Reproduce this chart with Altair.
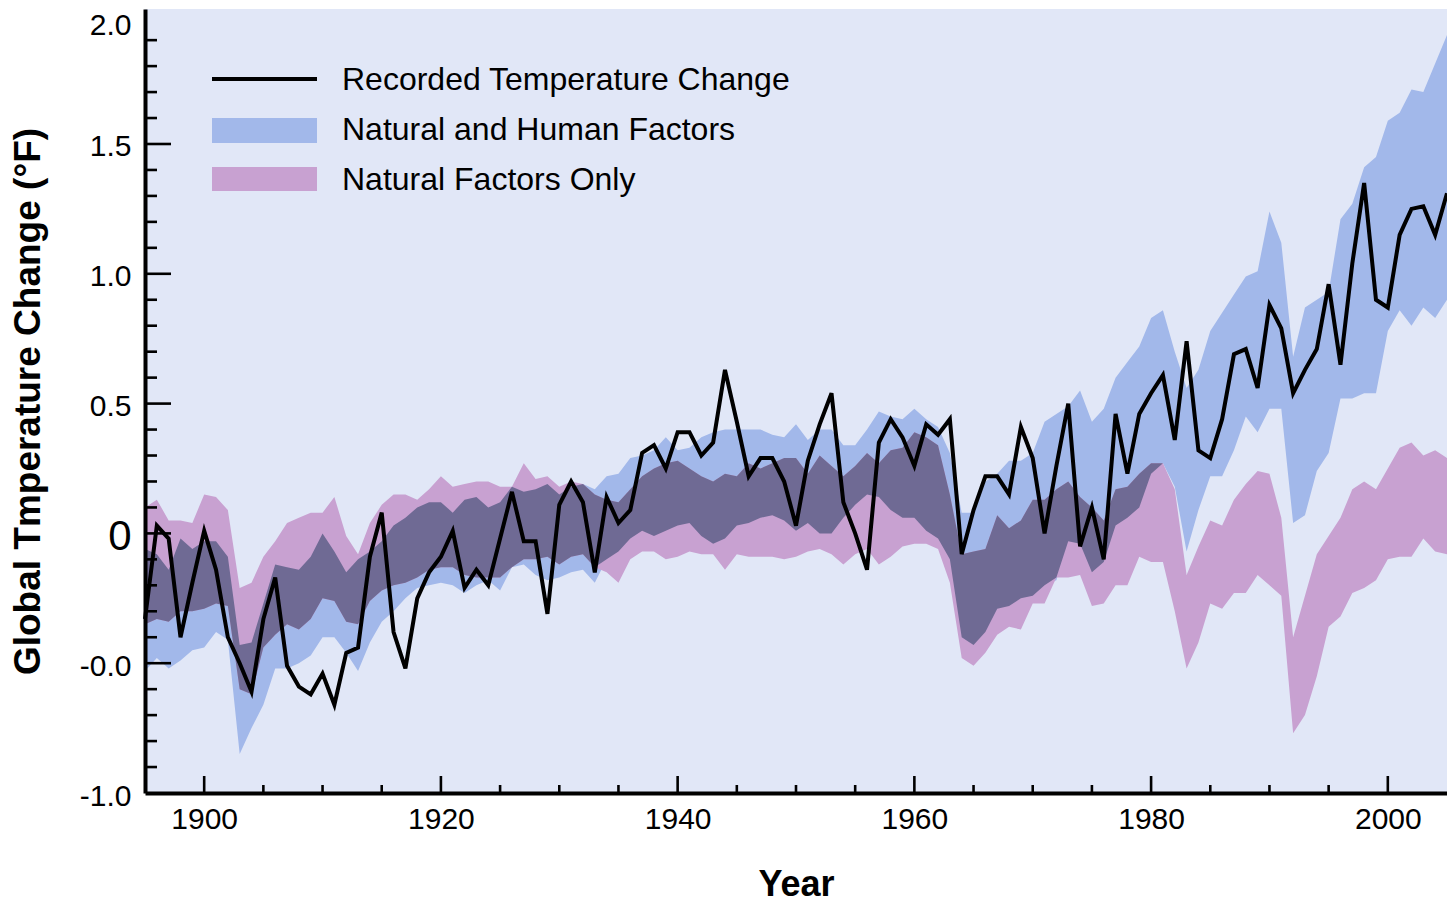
import altair as alt
import pandas as pd
import numpy as np

years = list(range(1895, 2006))

recorded = [
    -0.33, 0.03, -0.02, -0.40, -0.19, 0.01, -0.14, -0.40, -0.50, -0.61,
    -0.33, -0.17, -0.51, -0.59, -0.62, -0.54, -0.66, -0.46, -0.44, -0.09,
    0.08, -0.38, -0.52, -0.25, -0.15, -0.09, 0.01, -0.21, -0.14, -0.20,
    -0.02, 0.16, -0.03, -0.03, -0.31, 0.11, 0.20, 0.12, -0.15, 0.14,
    0.04, 0.09, 0.31, 0.34, 0.25, 0.39, 0.39, 0.30, 0.35, 0.63,
    0.43, 0.22, 0.29, 0.29, 0.20, 0.03, 0.28, 0.42, 0.54, 0.12,
    0.00, -0.14, 0.35, 0.44, 0.37, 0.26, 0.42, 0.38, 0.44, -0.08,
    0.09, 0.22, 0.22, 0.15, 0.41, 0.29, 0.00, 0.26, 0.50, -0.05,
    0.10, -0.10, 0.46, 0.23, 0.46, 0.54, 0.61, 0.36, 0.74, 0.32,
    0.29, 0.44, 0.69, 0.71, 0.56, 0.88, 0.79, 0.54, 0.63, 0.71,
    0.96, 0.65, 1.04, 1.35, 0.90, 0.87, 1.15, 1.25, 1.26, 1.15,
    1.31,
]

nh_high = [
    -0.06, -0.08, -0.14, -0.02, -0.06, -0.03, -0.03, -0.09, -0.43, -0.42,
    -0.27, -0.12, -0.13, -0.14, -0.09, 0.00, -0.07, -0.15, -0.10, -0.07,
    -0.03, 0.03, 0.06, 0.10, 0.12, 0.12, 0.08, 0.13, 0.14, 0.10,
    0.12, 0.18, 0.16, 0.17, 0.19, 0.15, 0.18, 0.19, 0.17, 0.22,
    0.23, 0.29, 0.30, 0.32, 0.37, 0.32, 0.33, 0.37, 0.39, 0.40,
    0.40, 0.40, 0.40, 0.38, 0.37, 0.42, 0.36, 0.40, 0.40, 0.34,
    0.34, 0.40, 0.47, 0.45, 0.44, 0.48, 0.44, 0.41, 0.31, 0.08,
    0.08, 0.20, 0.23, 0.28, 0.28, 0.31, 0.43, 0.46, 0.49, 0.55,
    0.43, 0.48, 0.60, 0.66, 0.72, 0.83, 0.86, 0.70, 0.56, 0.63,
    0.78, 0.85, 0.92, 0.99, 1.01, 1.24, 1.12, 0.68, 0.87, 0.90,
    0.93, 1.21, 1.27, 1.41, 1.45, 1.59, 1.62, 1.71, 1.70, 1.81,
    1.92,
]

nh_low = [
    -0.53, -0.48, -0.52, -0.49, -0.45, -0.44, -0.38, -0.41, -0.85, -0.75,
    -0.66, -0.52, -0.52, -0.50, -0.47, -0.40, -0.40, -0.46, -0.53, -0.42,
    -0.34, -0.30, -0.25, -0.21, -0.20, -0.19, -0.20, -0.23, -0.20, -0.18,
    -0.22, -0.13, -0.12, -0.16, -0.18, -0.17, -0.15, -0.14, -0.19, -0.10,
    -0.07, -0.02, 0.01, -0.01, 0.01, 0.03, 0.04, -0.01, -0.04, -0.02,
    0.03, 0.04, 0.06, 0.07, 0.05, 0.01, 0.04, 0.00, 0.00, 0.06,
    0.11, 0.15, 0.14, 0.09, 0.06, 0.06, 0.01, -0.02, -0.10, -0.40,
    -0.43, -0.38, -0.29, -0.28, -0.25, -0.24, -0.20, -0.18, -0.03, -0.04,
    -0.15, -0.11, 0.03, 0.06, 0.10, 0.23, 0.27, 0.18, -0.07, 0.09,
    0.22, 0.22, 0.32, 0.45, 0.39, 0.48, 0.48, 0.04, 0.07, 0.24,
    0.31, 0.52, 0.52, 0.54, 0.54, 0.78, 0.86, 0.80, 0.87, 0.83,
    0.90,
]

nat_high = [
    0.10, 0.13, 0.05, 0.05, 0.04, 0.15, 0.14, 0.09, -0.21, -0.19,
    -0.09, -0.03, 0.04, 0.06, 0.08, 0.08, 0.14, -0.01, -0.08, 0.04,
    0.11, 0.15, 0.15, 0.13, 0.17, 0.22, 0.18, 0.19, 0.20, 0.20,
    0.18, 0.18, 0.27, 0.21, 0.22, 0.18, 0.20, 0.19, 0.15, 0.13,
    0.12, 0.17, 0.22, 0.25, 0.27, 0.28, 0.25, 0.22, 0.20, 0.23,
    0.22, 0.27, 0.25, 0.27, 0.29, 0.29, 0.23, 0.30, 0.26, 0.22,
    0.26, 0.31, 0.27, 0.32, 0.33, 0.39, 0.37, 0.34, 0.15, -0.08,
    -0.07, -0.06, 0.07, 0.02, 0.05, 0.13, 0.13, 0.17, 0.20, 0.14,
    0.10, 0.05, 0.17, 0.18, 0.23, 0.27, 0.27, 0.17, -0.16, -0.05,
    0.05, 0.03, 0.13, 0.19, 0.24, 0.23, 0.06, -0.40, -0.24, -0.08,
    -0.01, 0.06, 0.17, 0.20, 0.17, 0.25, 0.33, 0.35, 0.30, 0.32,
    0.29,
]

nat_low = [
    -0.35, -0.33, -0.34, -0.30, -0.30, -0.29, -0.27, -0.28, -0.60, -0.62,
    -0.44, -0.39, -0.35, -0.37, -0.33, -0.25, -0.26, -0.34, -0.35, -0.26,
    -0.22, -0.20, -0.19, -0.17, -0.14, -0.13, -0.13, -0.16, -0.17, -0.17,
    -0.17, -0.13, -0.10, -0.10, -0.09, -0.12, -0.09, -0.08, -0.13, -0.15,
    -0.19, -0.10, -0.07, -0.07, -0.10, -0.09, -0.07, -0.08, -0.08, -0.14,
    -0.08, -0.09, -0.09, -0.09, -0.10, -0.09, -0.07, -0.06, -0.08, -0.12,
    -0.08, -0.06, -0.12, -0.09, -0.05, -0.04, -0.04, -0.06, -0.19, -0.48,
    -0.51, -0.46, -0.39, -0.36, -0.37, -0.27, -0.27, -0.17, -0.17, -0.16,
    -0.28, -0.27, -0.20, -0.20, -0.09, -0.11, -0.11, -0.30, -0.52, -0.42,
    -0.27, -0.29, -0.23, -0.23, -0.16, -0.20, -0.24, -0.77, -0.70, -0.55,
    -0.36, -0.32, -0.23, -0.21, -0.18, -0.10, -0.09, -0.09, -0.02, -0.07,
    -0.08,
]

legend_labels = ["Recorded Temperature Change", "Natural and Human Factors", "Natural Factors Only"]

y_tick_labels = [-1.0, -0.5, 0.0, 0.5, 1.0, 1.5, 2.0]
y_major_ticks = [-0.5, 0.0, 0.5, 1.0, 1.5]
y_minor_ticks = [round(v / 10, 1) for v in range(-9, 20) if v % 5 != 0]
x_tick_labels = list(range(1900, 2001, 20))
x_minor_ticks = [v for v in range(1900, 2005, 5) if v % 20 != 0]

BG = "#E1E7F7"
BLUE = "#A2B8EA"
PINK = "#C8A1D1"
DARK = "#6F6A94"
FONT = "Liberation Sans"

df = pd.DataFrame({
    "year": years, "recorded": recorded,
    "nh_low": nh_low, "nh_high": nh_high,
    "nat_low": nat_low, "nat_high": nat_high,
})
df["ov_low"] = np.maximum(df["nh_low"], df["nat_low"])
df["ov_high"] = np.maximum(np.minimum(df["nh_high"], df["nat_high"]), df["ov_low"])

W, H = 1302, 784
xs = alt.Scale(domain=[1895, 2005], nice=False, zero=False)
ys = alt.Scale(domain=[-1.0, 2.02], nice=False, zero=False)

x_axis = alt.Axis(
    values=x_tick_labels, format="d", title="Year",
    labelFontSize=30, labelPadding=11, labelFlush=False,
    titleFontSize=36, titleFontWeight="bold", titleY=102, titleBaseline="alphabetic",
    zindex=1,
)
y_axis = alt.Axis(
    values=y_tick_labels,
    labelExpr="datum.value == 0 ? '0' : (datum.value == -0.5 ? '-0.0' : (datum.value == -1 ? '-1.0' : format(datum.value, '.1f')))",
    labelFontSize={"condition": {"test": "datum.value == 0", "value": 42}, "value": 30},
    labelOffset={"condition": {"test": "datum.value == 2", "value": 11}, "value": 3},
    labelPadding=14, labelFlush=False, labelOverlap=False,
    title="Global Tmperature Change (°F)",
    titleFontSize=37, titleFontWeight="bold", titleX=-117, titleY=392,
    titleAngle=-90, titleAlign="center", titleBaseline="middle",
    zindex=1,
)

X = alt.X("year:Q", scale=xs, axis=x_axis)

blue = alt.Chart(df).mark_area(color=BLUE, opacity=1).encode(
    x=X, y=alt.Y("nh_low:Q", scale=ys, axis=y_axis), y2="nh_high:Q")
pink = alt.Chart(df).mark_area(color=PINK, opacity=1).encode(
    x=X, y=alt.Y("nat_low:Q", scale=ys, axis=y_axis), y2="nat_high:Q")
overlap = alt.Chart(df).mark_area(color=DARK, opacity=1).encode(
    x=X, y=alt.Y("ov_low:Q", scale=ys, axis=y_axis), y2="ov_high:Q")
line = alt.Chart(df).mark_line(color="black", strokeWidth=4, strokeJoin="miter").encode(
    x=X, y=alt.Y("recorded:Q", scale=ys, axis=y_axis))

ymaj = alt.Chart(pd.DataFrame({"v": y_major_ticks})).mark_rule(color="black", strokeWidth=2.6).encode(
    y=alt.Y("v:Q", scale=ys, axis=y_axis), x=alt.value(0), x2=alt.value(26))
ymin = alt.Chart(pd.DataFrame({"v": y_minor_ticks})).mark_rule(color="black", strokeWidth=2.6).encode(
    y=alt.Y("v:Q", scale=ys, axis=y_axis), x=alt.value(0), x2=alt.value(12))
xmaj = alt.Chart(pd.DataFrame({"v": x_tick_labels})).mark_rule(color="black", strokeWidth=2.6).encode(
    x=alt.X("v:Q", scale=xs, axis=x_axis), y=alt.value(H), y2=alt.value(H - 17))
xmin = alt.Chart(pd.DataFrame({"v": x_minor_ticks})).mark_rule(color="black", strokeWidth=2.6).encode(
    x=alt.X("v:Q", scale=xs, axis=x_axis), y=alt.value(H), y2=alt.value(H - 8))

one = pd.DataFrame({"a": [0]})
leg_line = alt.Chart(one).mark_rule(color="black", strokeWidth=4).encode(
    x=alt.value(67), x2=alt.value(172), y=alt.value(70))
leg_blue = alt.Chart(one).mark_rect(color=BLUE).encode(
    x=alt.value(67), x2=alt.value(172), y=alt.value(109), y2=alt.value(134))
leg_pink = alt.Chart(one).mark_rect(color=PINK).encode(
    x=alt.value(67), x2=alt.value(172), y=alt.value(158), y2=alt.value(182))
leg_texts = [
    alt.Chart(one).mark_text(align="left", baseline="middle", font=FONT, fontSize=32, color="black").encode(
        x=alt.value(197), y=alt.value(yy), text=alt.value(lbl))
    for lbl, yy in zip(legend_labels, [71, 121, 171])
]

chart = alt.layer(
    blue, pink, overlap, line, ymaj, ymin, xmaj, xmin,
    leg_line, leg_blue, leg_pink, *leg_texts,
).properties(
    width=W, height=H,
    padding={"left": 137, "top": 1, "right": 0, "bottom": 114},
    autosize=alt.AutoSizeParams(type="none"),
).configure_view(
    stroke=None, fill=BG,
).configure_axis(
    labelFont=FONT, titleFont=FONT, labelColor="black", titleColor="black",
    domainColor="black", domainWidth=4, ticks=False, grid=False,
)

chart.save("out.html", embed_options={"renderer": "svg", "actions": False})
